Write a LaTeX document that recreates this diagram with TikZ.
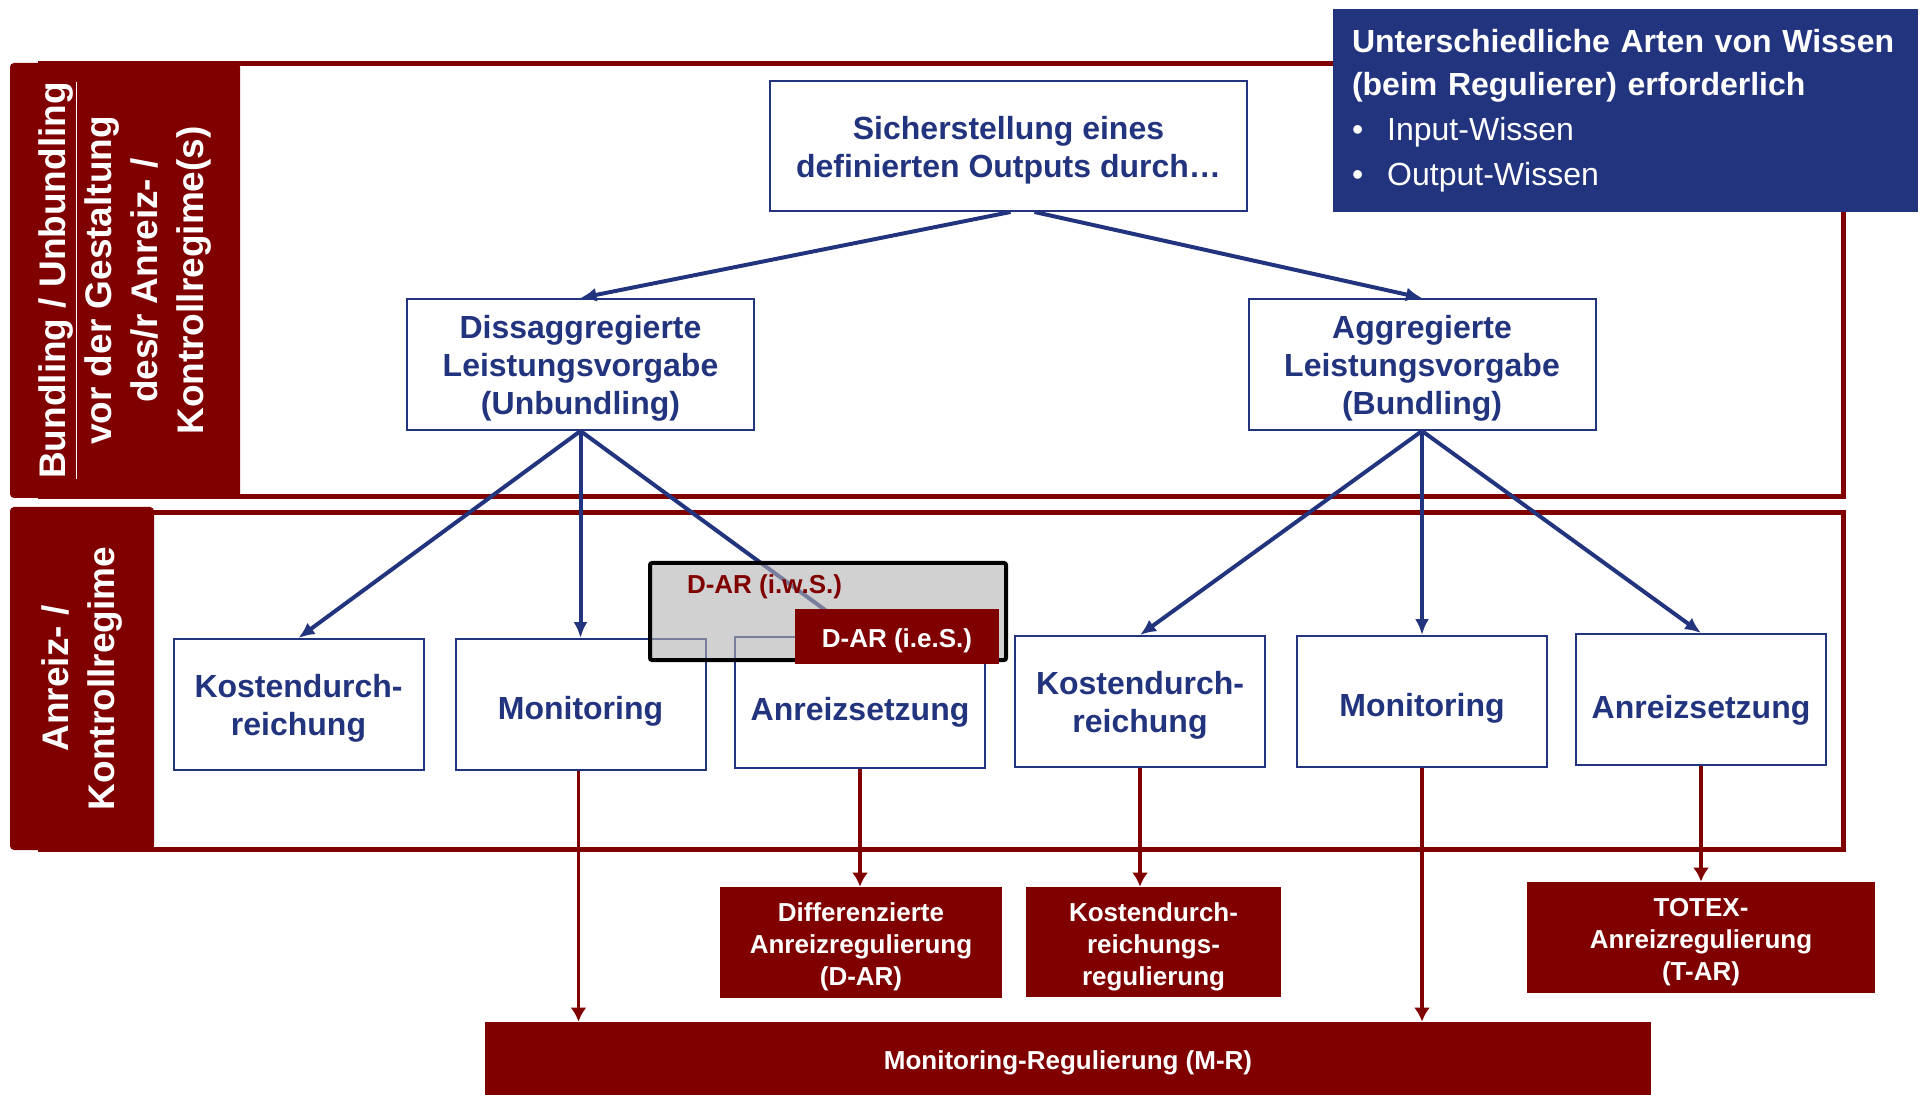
\documentclass[tikz,border=0pt]{standalone}
\usepackage{fontspec}
\setmainfont{Liberation Sans}
\usetikzlibrary{arrows.meta}

\definecolor{regblue}{RGB}{35,52,127}
\definecolor{regred}{RGB}{128,0,0}

% struts that set the text a little lower in its box
\newcommand{\boxstrut}{\rule{0pt}{15.8pt}}
\newcommand{\onestrut}{\rule{0pt}{18.2pt}}
\newcommand{\lowstrut}{\rule{0pt}{22pt}}
\newcommand{\redstrut}{\rule{0pt}{13.9pt}}

\tikzset{
  box/.style={draw=regblue, line width=1pt, fill=white, text=regblue, align=center,
    inner sep=0pt, font=\fontsize{16}{19}\selectfont\bfseries,
    minimum width=125pt, minimum height=65.5pt},
  redbox/.style={fill=regred, text=white, align=center, inner sep=0pt,
    font=\fontsize{13}{16}\selectfont\bfseries},
  sidebox/.style={fill=regred, text=white, align=center, inner sep=0pt, rotate=90,
    rounded corners=2pt, font=\fontsize{18.5}{23}\selectfont\bfseries},
  frameline/.style={draw=regred, line width=2.5pt},
  bluearrow/.style={draw=regblue, line width=2pt, -{Latex[length=8pt,width=7pt]}},
  redarrow/.style={draw=regred, line width=1.75pt, -{Latex[length=7pt,width=8pt]}}
}

\begin{document}
\begin{tikzpicture}[x=0.5pt,y=-0.5pt]
    \useasboundingbox (0,0) rectangle (1920,1095);

    % Frames of both levels
    \draw[frameline] (40,64) rectangle (1843,497);
    \draw[frameline] (40,513) rectangle (1843,849);

    % Side labels
    \node[sidebox, minimum width=217.5pt, minimum height=115pt] (lab1) at (125,280.5)
        {\underline{Bundling / Unbundling}\\vor der Gestaltung\\des/r Anreiz- /\\Kontrollregime(s)};
    \node[sidebox, minimum width=171.5pt, minimum height=72pt] (lab2) at (82,678.5)
        {Anreiz- /\\Kontrollregime};

    % Knowledge box
    \node[fill=regblue, text=white, align=left, inner xsep=9.5pt, inner ysep=0pt,
          text width=273.5pt, minimum height=101.5pt,
          font=\fontsize{16}{21.5}\selectfont] (info) at (1625.5,110.5)
        {\textbf{Unterschiedliche Arten von Wissen}\\\textbf{(beim Regulierer) erforderlich}\\[1pt]
         \textbullet\hspace{12pt}Input-Wissen\\[1pt]
         \textbullet\hspace{12pt}Output-Wissen};

    % Upper level
    \node[box, minimum width=238.5pt, minimum height=65pt] (top) at (1008.5,146)
        {\boxstrut Sicherstellung eines\\definierten Outputs durch\dots};
    \node[box, minimum width=173.5pt] (dis) at (580.5,364.5)
        {\boxstrut Dissaggregierte\\Leistungsvorgabe\\(Unbundling)};
    \node[box, minimum width=173.5pt] (agg) at (1422,364.5)
        {\boxstrut Aggregierte\\Leistungsvorgabe\\(Bundling)};

    \draw[bluearrow] ([xshift=1pt]top.south) -- (dis.north);
    \draw[bluearrow] ([xshift=13pt]top.south) -- (agg.north);

    % Lower level
    \node[box] (kos1) at (298.5,704.5) {\boxstrut Kostendurch-\\reichung};
    \node[box] (mon1) at (580.5,704.5) {\onestrut Monitoring};
    \node[box] (anr1) at (860,702) {\lowstrut Anreizsetzung};
    \node[box] (kos2) at (1140,701.5) {\boxstrut Kostendurch-\\reichung};
    \node[box] (mon2) at (1422,701.5) {\onestrut Monitoring};
    \node[box] (anr2) at (1701,699.5) {\lowstrut Anreizsetzung};

    \draw[bluearrow] (dis.south) -- (kos1.north);
    \draw[bluearrow] (dis.south) -- (mon1.north);
    \draw[bluearrow] (dis.south) -- (anr1.north);
    \draw[bluearrow] (agg.south) -- (kos2.north);
    \draw[bluearrow] (agg.south) -- (mon2.north);
    \draw[bluearrow] (agg.south) -- (anr2.north);

    % D-AR in the wider and narrower sense
    \node[draw=black, line width=2pt, fill=black!30, fill opacity=0.6, rounded corners=1pt,
          minimum width=178pt, minimum height=48.5pt] (dar) at (828,611.5) {};
    \node[text=regred, font=\fontsize{13}{16}\selectfont\bfseries] (darlab) at (764.5,586.5)
        {D-AR (i.w.S.)};
    \node[redbox, minimum width=102pt, minimum height=27.5pt] (dares) at (897,636.5)
        {\redstrut D-AR (i.e.S.)};

    % Regulation types
    \node[redbox, minimum width=141pt, minimum height=55.5pt] (difreg) at (861,942.5)
        {\redstrut Differenzierte\\Anreizregulierung\\(D-AR)};
    \node[redbox, minimum width=127.5pt, minimum height=55pt] (kosreg) at (1153.5,942)
        {\redstrut Kostendurch-\\reichungs-\\regulierung};
    \node[redbox, minimum width=174pt, minimum height=55.5pt] (totex) at (1701,937.5)
        {\redstrut TOTEX-\\Anreizregulierung\\(T-AR)};
    \node[redbox, minimum width=583pt, minimum height=36.5pt] (monreg) at (1068,1058.5)
        {\redstrut Monitoring-Regulierung (M-R)};

    \draw[redarrow] ([xshift=-1pt]mon1.south) -- ([xshift=-1pt]mon1.south |- monreg.north);
    \draw[redarrow] (mon2.south) -- (mon2.south |- monreg.north);
    \draw[redarrow] (anr1.south) -- (anr1.south |- difreg.north);
    \draw[redarrow] (kos2.south) -- (kos2.south |- kosreg.north);
    \draw[redarrow] (anr2.south) -- (anr2.south |- totex.north);
\end{tikzpicture}
\end{document}
